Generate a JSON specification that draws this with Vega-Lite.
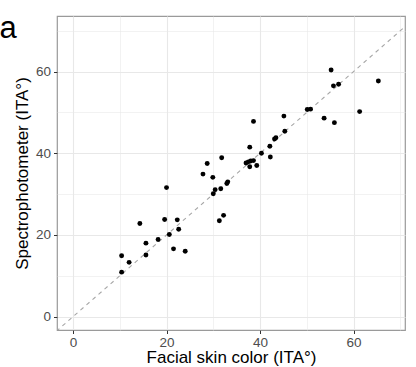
{
  "$schema": "https://vega.github.io/schema/vega-lite/v6.json",
  "autosize": {"type": "none"},
  "padding": {"left": 57, "top": 16, "right": 11, "bottom": 37},
  "width": 348,
  "height": 314,
  "background": "white",
  "title": {
    "text": "a",
    "anchor": "start",
    "frame": "bounds",
    "font": "Liberation Sans",
    "fontSize": 31,
    "fontWeight": "normal",
    "color": "black",
    "baseline": "alphabetic",
    "offset": 0,
    "dx": -14,
    "dy": 53
  },
  "config": {
    "font": "Liberation Sans",
    "title": {"font": "Liberation Sans"},
    "view": {"stroke": "#9a9a9a", "strokeWidth": 1.2},
    "axis": {
      "labelFont": "Liberation Sans",
      "titleFont": "Liberation Sans",
      "labelFontSize": 13.5,
      "labelColor": "#4d4d4d",
      "titleFontSize": 17,
      "titleFontWeight": "normal",
      "titleColor": "black",
      "domain": false,
      "tickColor": "#333333",
      "tickSize": 3.5,
      "gridColor": "#e8e8e8"
    }
  },
  "datasets": {
    "skin": [
      {"facial": 10.4, "spectro": 14.9},
      {"facial": 10.4, "spectro": 10.9},
      {"facial": 12.0, "spectro": 13.3},
      {"facial": 14.3, "spectro": 22.8},
      {"facial": 15.6, "spectro": 18.0},
      {"facial": 15.6, "spectro": 15.1},
      {"facial": 18.2, "spectro": 18.9},
      {"facial": 19.6, "spectro": 23.8},
      {"facial": 20.0, "spectro": 31.6},
      {"facial": 20.6, "spectro": 20.1},
      {"facial": 21.5, "spectro": 16.6},
      {"facial": 22.3, "spectro": 23.7},
      {"facial": 22.6, "spectro": 21.4},
      {"facial": 24.0, "spectro": 16.0},
      {"facial": 27.8, "spectro": 34.9},
      {"facial": 28.7, "spectro": 37.5},
      {"facial": 29.9, "spectro": 34.1},
      {"facial": 30.0, "spectro": 30.1},
      {"facial": 30.4, "spectro": 31.1},
      {"facial": 31.3, "spectro": 23.5},
      {"facial": 31.6, "spectro": 31.3},
      {"facial": 31.8, "spectro": 38.9},
      {"facial": 32.2, "spectro": 24.8},
      {"facial": 32.9, "spectro": 32.6},
      {"facial": 33.1, "spectro": 33.0},
      {"facial": 37.0, "spectro": 37.6},
      {"facial": 37.5, "spectro": 37.9},
      {"facial": 37.8, "spectro": 41.5},
      {"facial": 37.8, "spectro": 36.7},
      {"facial": 38.0, "spectro": 38.1},
      {"facial": 38.6, "spectro": 38.2},
      {"facial": 38.6, "spectro": 47.8},
      {"facial": 39.3, "spectro": 37.0},
      {"facial": 40.3, "spectro": 40.0},
      {"facial": 42.1, "spectro": 41.7},
      {"facial": 42.2, "spectro": 39.1},
      {"facial": 43.1, "spectro": 43.5},
      {"facial": 43.4, "spectro": 43.8},
      {"facial": 45.1, "spectro": 49.1},
      {"facial": 45.3, "spectro": 45.4},
      {"facial": 50.1, "spectro": 50.7},
      {"facial": 50.8, "spectro": 50.8},
      {"facial": 53.7, "spectro": 48.6},
      {"facial": 55.2, "spectro": 60.4},
      {"facial": 55.7, "spectro": 56.5},
      {"facial": 55.9, "spectro": 47.5},
      {"facial": 56.8, "spectro": 56.9},
      {"facial": 61.3, "spectro": 50.2},
      {"facial": 65.3, "spectro": 57.7}
    ],
    "identity": [
      {"facial": -10, "spectro": -10},
      {"facial": 80, "spectro": 80}
    ]
  },
  "layer": [
    {
      "data": {"name": "identity"},
      "mark": {"type": "line", "clip": true, "color": "#a6a6a6", "strokeWidth": 1.1, "strokeDash": [4, 4]},
      "encoding": {
        "x": {
          "field": "facial",
          "type": "quantitative",
          "scale": {"domain": [-3.42, 71.0], "nice": false, "zero": false},
          "axis": {
            "title": "Facial skin color (ITA°)",
            "values": [0, 10, 20, 30, 40, 50, 60, 70],
            "labelExpr": "datum.value % 20 === 0 ? datum.label : ''",
            "tickOpacity": {"condition": {"test": "datum.value % 20 === 0", "value": 1}, "value": 0},
            "gridWidth": {"condition": {"test": "datum.value % 20 === 0", "value": 1.1}, "value": 0.55},
            "labelPadding": 1.5,
            "titlePadding": 1
          }
        },
        "y": {
          "field": "spectro",
          "type": "quantitative",
          "scale": {"domain": [-3.26, 73.6], "nice": false, "zero": false},
          "axis": {
            "title": "Spectrophotometer (ITA°)",
            "values": [0, 10, 20, 30, 40, 50, 60, 70],
            "labelExpr": "datum.value % 20 === 0 ? datum.label : ''",
            "tickOpacity": {"condition": {"test": "datum.value % 20 === 0", "value": 1}, "value": 0},
            "gridWidth": {"condition": {"test": "datum.value % 20 === 0", "value": 1.1}, "value": 0.55},
            "labelPadding": 3,
            "titlePadding": 4
          }
        }
      }
    },
    {
      "data": {"name": "skin"},
      "mark": {"type": "circle", "color": "black", "opacity": 1, "size": 24},
      "encoding": {
        "x": {"field": "facial", "type": "quantitative"},
        "y": {"field": "spectro", "type": "quantitative"}
      }
    }
  ]
}
